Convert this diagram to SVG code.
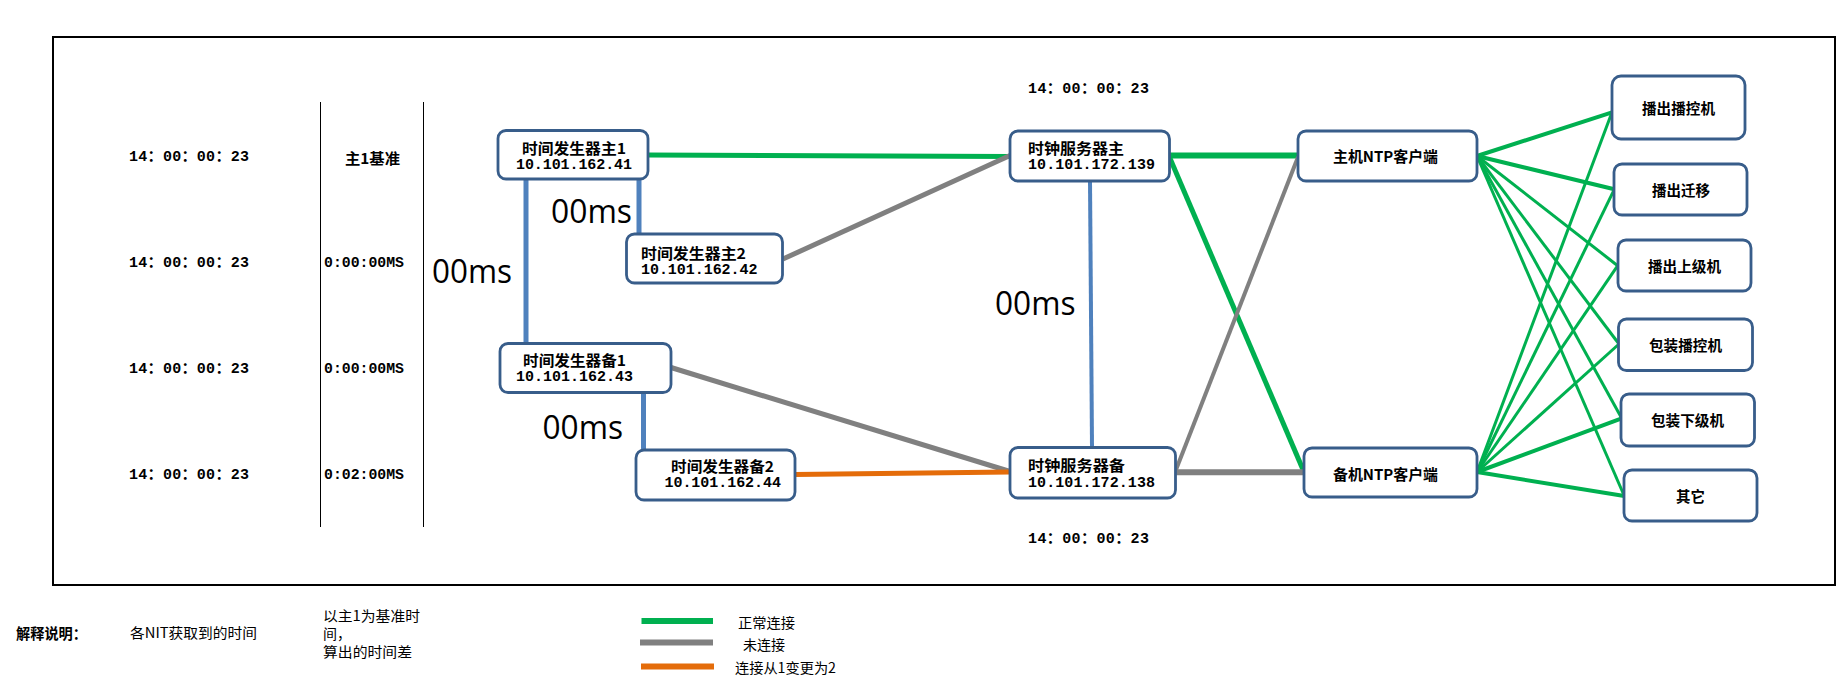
<svg xmlns="http://www.w3.org/2000/svg" width="1845" height="689" viewBox="0 0 1845 689">
<style>
.node{fill:#fff;stroke:#385D8A;stroke-width:2.8}
.cn{font-family:"Noto Sans CJK SC","Noto Sans",sans-serif;font-weight:bold;font-size:15px;fill:#000}
.ip{font-family:"Liberation Mono","Noto Sans CJK SC",monospace;font-weight:bold;font-size:15px;fill:#000}
.tm{font-family:"Liberation Mono","Noto Sans CJK SC",monospace;font-weight:bold;font-size:15px;fill:#000}
.ms{font-family:"Open Sans","Liberation Sans",sans-serif;font-size:32px;fill:#000}
.lg{font-family:"Noto Sans CJK SC",sans-serif;font-size:14px;fill:#000}
.g{stroke:#00B050;fill:none}
.gr{stroke:#808080;fill:none}
.or{stroke:#E46C0A;fill:none}
.bl{stroke:#4F81BD;fill:none}
</style>
<rect width="1845" height="689" fill="#fff"/>
<rect x="53" y="37" width="1782" height="548" fill="none" stroke="#000" stroke-width="2"/>
<line x1="320.5" y1="102" x2="320.5" y2="527" stroke="#000" stroke-width="1"/>
<line x1="423.5" y1="102" x2="423.5" y2="527" stroke="#000" stroke-width="1"/>

<g id="times" dominant-baseline="central">
<text class="tm" x="129" y="157" textLength="120" lengthAdjust="spacing">14：00：00：23</text>
<text class="tm" x="129" y="263" textLength="120" lengthAdjust="spacing">14：00：00：23</text>
<text class="tm" x="129" y="369" textLength="120" lengthAdjust="spacing">14：00：00：23</text>
<text class="tm" x="129" y="475" textLength="120" lengthAdjust="spacing">14：00：00：23</text>
<text class="cn" x="345" y="157" textLength="55" lengthAdjust="spacingAndGlyphs">主1基准</text>
<text class="tm" x="324" y="263" textLength="80" lengthAdjust="spacingAndGlyphs">0:00:00MS</text>
<text class="tm" x="324" y="369" textLength="80" lengthAdjust="spacingAndGlyphs">0:00:00MS</text>
<text class="tm" x="324" y="475" textLength="80" lengthAdjust="spacingAndGlyphs">0:02:00MS</text>
<text class="tm" x="1028" y="89" textLength="121" lengthAdjust="spacing">14：00：00：23</text>
<text class="tm" x="1028" y="539" textLength="121" lengthAdjust="spacing">14：00：00：23</text>
</g>

<g id="connectors" stroke-linecap="butt">
<line class="bl" x1="526" y1="179" x2="526" y2="344" stroke-width="5"/>
<line class="bl" x1="639" y1="179" x2="639" y2="234" stroke-width="5"/>
<line class="bl" x1="643.5" y1="392" x2="643.5" y2="450" stroke-width="5"/>
<line class="bl" x1="1090" y1="181" x2="1092" y2="447" stroke-width="4"/>
<line class="g" x1="648" y1="155" x2="1010" y2="156.5" stroke-width="5"/>
<line class="gr" x1="783" y1="259" x2="1010" y2="155.5" stroke-width="5"/>
<line class="gr" x1="671" y1="367.5" x2="1010" y2="471.5" stroke-width="5"/>
<line class="or" x1="795" y1="474.5" x2="1010" y2="472" stroke-width="5"/>
<line class="g" x1="1169" y1="155.5" x2="1298" y2="155.5" stroke-width="6"/>
<line class="g" x1="1169" y1="156" x2="1304" y2="472" stroke-width="5"/>
<line class="gr" x1="1175.5" y1="471" x2="1298" y2="157" stroke-width="4"/>
<line class="gr" x1="1175.5" y1="472.3" x2="1304" y2="472.3" stroke-width="6"/>
<line class="g" x1="1477" y1="156" x2="1612" y2="112.3" stroke-width="4"/>
<line class="g" x1="1477" y1="156" x2="1614.3" y2="189.3" stroke-width="4"/>
<line class="g" x1="1477" y1="156" x2="1617.7" y2="265.7" stroke-width="3"/>
<line class="g" x1="1477" y1="156" x2="1619" y2="344" stroke-width="3"/>
<line class="g" x1="1477" y1="156" x2="1621.7" y2="418.3" stroke-width="3"/>
<line class="g" x1="1477" y1="156" x2="1624.3" y2="496" stroke-width="3"/>
<line class="g" x1="1477" y1="472" x2="1612" y2="112.3" stroke-width="3"/>
<line class="g" x1="1477" y1="472" x2="1614.3" y2="189.3" stroke-width="3"/>
<line class="g" x1="1477" y1="472" x2="1617.7" y2="265.7" stroke-width="3"/>
<line class="g" x1="1477" y1="472" x2="1619" y2="344" stroke-width="3"/>
<line class="g" x1="1477" y1="472" x2="1621.7" y2="418.3" stroke-width="4"/>
<line class="g" x1="1477" y1="472" x2="1624.3" y2="496" stroke-width="4"/>
</g>

<g id="delays">
<text class="ms" x="432" y="283" textLength="80" lengthAdjust="spacingAndGlyphs">00ms</text>
<text class="ms" x="551" y="223" textLength="81" lengthAdjust="spacingAndGlyphs">00ms</text>
<text class="ms" x="542.5" y="439" textLength="80.5" lengthAdjust="spacingAndGlyphs">00ms</text>
<text class="ms" x="995" y="315" textLength="80.5" lengthAdjust="spacingAndGlyphs">00ms</text>
</g>

<g id="gen-main1" dominant-baseline="central">
<rect class="node" x="498" y="130.5" width="150" height="48.5" rx="8"/>
<text class="cn" x="522" y="147" textLength="104" lengthAdjust="spacingAndGlyphs">时间发生器主1</text>
<text class="ip" x="516" y="165" textLength="116" lengthAdjust="spacing">10.101.162.41</text>
</g>
<g id="gen-main2" dominant-baseline="central">
<rect class="node" x="626.5" y="234" width="156" height="49" rx="8"/>
<text class="cn" x="641" y="252.5" textLength="105" lengthAdjust="spacingAndGlyphs">时间发生器主2</text>
<text class="ip" x="641" y="270.5" textLength="116.5" lengthAdjust="spacing">10.101.162.42</text>
</g>
<g id="gen-backup1" dominant-baseline="central">
<rect class="node" x="500" y="343.5" width="171" height="49" rx="8"/>
<text class="cn" x="523" y="359.5" textLength="103" lengthAdjust="spacingAndGlyphs">时间发生器备1</text>
<text class="ip" x="516" y="377.5" textLength="117" lengthAdjust="spacing">10.101.162.43</text>
</g>
<g id="gen-backup2" dominant-baseline="central">
<rect class="node" x="636" y="450" width="159" height="50" rx="8"/>
<text class="cn" x="671" y="465" textLength="103" lengthAdjust="spacingAndGlyphs">时间发生器备2</text>
<text class="ip" x="664.5" y="483" textLength="116.5" lengthAdjust="spacing">10.101.162.44</text>
</g>
<g id="clock-main" dominant-baseline="central">
<rect class="node" x="1010" y="131" width="159.5" height="50" rx="8"/>
<text class="cn" x="1028" y="147" textLength="96" lengthAdjust="spacingAndGlyphs">时钟服务器主</text>
<text class="ip" x="1028" y="165" textLength="127" lengthAdjust="spacing">10.101.172.139</text>
</g>
<g id="clock-backup" dominant-baseline="central">
<rect class="node" x="1010" y="447.5" width="165.5" height="50.5" rx="8"/>
<text class="cn" x="1028" y="464" textLength="97" lengthAdjust="spacingAndGlyphs">时钟服务器备</text>
<text class="ip" x="1028" y="483" textLength="127" lengthAdjust="spacing">10.101.172.138</text>
</g>
<g id="ntp-main" dominant-baseline="central">
<rect class="node" x="1298" y="131" width="179" height="50" rx="8"/>
<text class="cn" x="1333" y="155.5" textLength="105" lengthAdjust="spacingAndGlyphs">主机NTP客户端</text>
</g>
<g id="ntp-backup" dominant-baseline="central">
<rect class="node" x="1304" y="448" width="173" height="49" rx="8"/>
<text class="cn" x="1333" y="473" textLength="105" lengthAdjust="spacingAndGlyphs">备机NTP客户端</text>
</g>
<g id="r1" dominant-baseline="central">
<rect class="node" x="1612" y="76" width="133" height="63" rx="9"/>
<text class="cn" x="1642" y="107" textLength="73" lengthAdjust="spacingAndGlyphs">播出播控机</text>
</g>
<g id="r2" dominant-baseline="central">
<rect class="node" x="1614" y="164" width="133" height="51" rx="8"/>
<text class="cn" x="1652" y="189.5" textLength="58" lengthAdjust="spacingAndGlyphs">播出迁移</text>
</g>
<g id="r3" dominant-baseline="central">
<rect class="node" x="1618" y="240" width="133" height="51" rx="8"/>
<text class="cn" x="1648" y="265" textLength="73" lengthAdjust="spacingAndGlyphs">播出上级机</text>
</g>
<g id="r4" dominant-baseline="central">
<rect class="node" x="1618.5" y="319" width="134" height="51.5" rx="8"/>
<text class="cn" x="1649" y="344" textLength="73" lengthAdjust="spacingAndGlyphs">包装播控机</text>
</g>
<g id="r5" dominant-baseline="central">
<rect class="node" x="1621" y="394" width="133.5" height="52" rx="8"/>
<text class="cn" x="1651" y="419" textLength="73" lengthAdjust="spacingAndGlyphs">包装下级机</text>
</g>
<g id="r6" dominant-baseline="central">
<rect class="node" x="1624" y="470" width="133" height="51" rx="8"/>
<text class="cn" x="1676" y="495.5" textLength="29" lengthAdjust="spacingAndGlyphs">其它</text>
</g>

<g id="legend" dominant-baseline="central">
<text class="cn" x="16" y="632" font-size="14" textLength="71" lengthAdjust="spacingAndGlyphs">解释说明：</text>
<text class="lg" x="130" y="632" textLength="127" lengthAdjust="spacingAndGlyphs">各NIT获取到的时间</text>
<text class="lg" x="323" y="615" textLength="97" lengthAdjust="spacingAndGlyphs">以主1为基准时</text>
<text class="lg" x="323" y="632.5">间，</text>
<text class="lg" x="323" y="650.5" textLength="89" lengthAdjust="spacingAndGlyphs">算出的时间差</text>
<line class="g" x1="641.5" y1="621" x2="713" y2="621" stroke-width="6"/>
<line class="gr" x1="640" y1="642.5" x2="713" y2="642.5" stroke-width="6"/>
<line class="or" x1="641" y1="666.5" x2="714" y2="666.5" stroke-width="6"/>
<text class="lg" x="738" y="622" textLength="57" lengthAdjust="spacingAndGlyphs">正常连接</text>
<text class="lg" x="743" y="644" textLength="42" lengthAdjust="spacingAndGlyphs">未连接</text>
<text class="lg" x="735" y="667" textLength="101" lengthAdjust="spacingAndGlyphs">连接从1变更为2</text>
</g>
</svg>
